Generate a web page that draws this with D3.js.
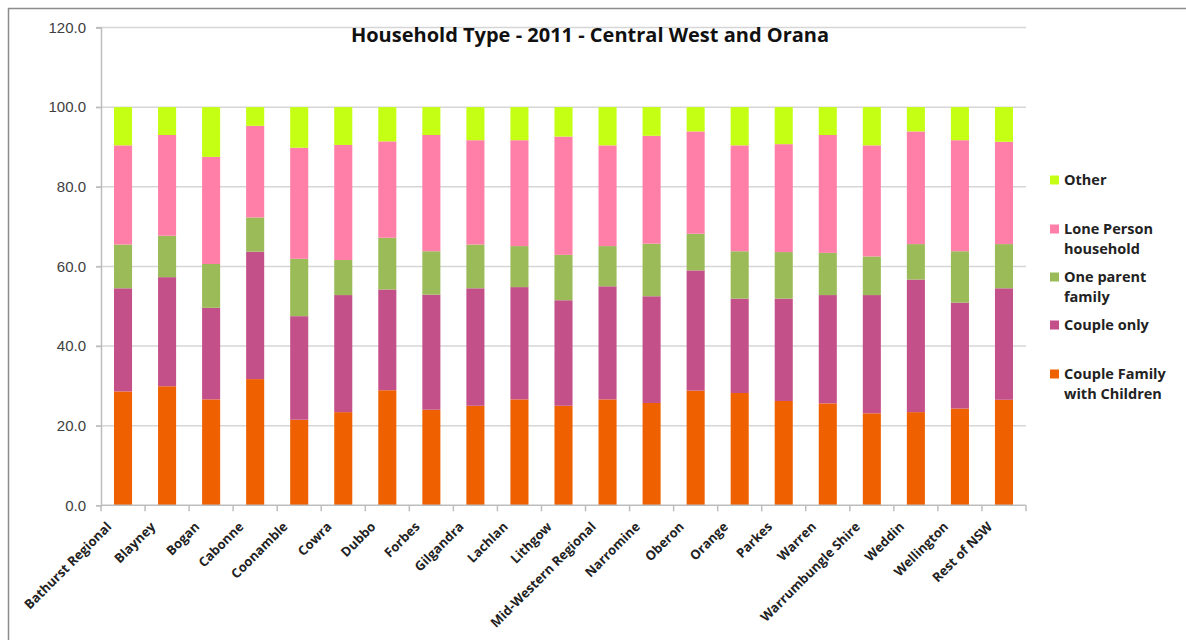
<!DOCTYPE html>
<meta charset="utf-8">
<style>
body { margin: 0; background: #fff; font-family: "Open Sans", Arial, sans-serif; }
.axis text { fill: #404040; }
.grid line { stroke: #d6d6d6; stroke-width: 1.5px; }
</style>
<body>
<script src="https://d3js.org/d3.v7.min.js"></script>
<script>
var regions = ["Bathurst Regional", "Blayney", "Bogan", "Cabonne", "Coonamble", "Cowra", "Dubbo",
  "Forbes", "Gilgandra", "Lachlan", "Lithgow", "Mid-Western Regional", "Narromine", "Oberon",
  "Orange", "Parkes", "Warren", "Warrumbungle Shire", "Weddin", "Wellington", "Rest of NSW"];

// stacked from the bottom up
var seriesNames = ["Couple Family with Children", "Couple only", "One parent family", "Lone Person household", "Other"];

var coupleFamily = [28.6, 29.9, 26.6, 31.7, 21.5, 23.4, 28.9, 24.0, 25.0, 26.6, 25.0, 26.6, 25.7, 28.8, 28.2, 26.2, 25.6, 23.1, 23.4, 24.3, 26.5];
var coupleOnly   = [25.9, 27.4, 23.0, 32.0, 26.0, 29.4, 25.3, 28.9, 29.5, 28.2, 26.5, 28.4, 26.8, 30.2, 23.7, 25.7, 27.2, 29.7, 33.3, 26.6, 28.0];
var oneParent    = [11.0, 10.4, 11.0, 8.6, 14.4, 8.8, 13.0, 10.9, 11.0, 10.3, 11.4, 10.1, 13.2, 9.2, 11.9, 11.7, 10.6, 9.7, 8.9, 12.9, 11.1];
var lonePerson   = [24.9, 25.3, 26.9, 23.0, 27.9, 28.9, 24.2, 29.2, 26.2, 26.6, 29.7, 25.3, 27.1, 25.7, 26.6, 27.1, 29.6, 27.9, 28.3, 27.9, 25.7];
var other        = [9.6, 7.0, 12.5, 4.7, 10.2, 9.5, 8.6, 7.0, 8.3, 8.3, 7.4, 9.6, 7.2, 6.1, 9.6, 9.3, 7.0, 9.6, 6.1, 8.3, 8.7];

var yTicks = [0, 20, 40, 60, 80, 100, 120];

var colors = ["#ef6100", "#c4508a", "#9bbb59", "#ff7fa8", "#c4ff14"];

var rows = regions.map(function(r, i) {
  return { region: r, s0: coupleFamily[i], s1: coupleOnly[i], s2: oneParent[i], s3: lonePerson[i], s4: other[i] };
});
var keys = ["s0", "s1", "s2", "s3", "s4"];

var W = 1186, H = 640;
var plot = { left: 101, right: 1026, top: 27.5, bottom: 505.3 };

var svg = d3.select("body").append("svg")
  .attr("width", W)
  .attr("height", H);

// outer chart border (top and left visible)
svg.append("path")
  .attr("d", "M8.5," + (H + 5) + "V8.5H" + (W + 5))
  .attr("fill", "none")
  .attr("stroke", "#8c8c8c")
  .attr("stroke-width", 1.5);

var x = d3.scaleBand()
  .domain(regions)
  .range([plot.left, plot.right])
  .paddingInner(0.59)
  .paddingOuter(0.295);

var y = d3.scaleLinear()
  .domain([0, 120])
  .range([plot.bottom, plot.top]);

// gridlines
svg.append("g")
  .attr("class", "grid")
  .selectAll("line")
  .data(yTicks.filter(function(d) { return d > 0; }))
  .enter().append("line")
    .attr("x1", plot.left - 5)
    .attr("x2", plot.right)
    .attr("y1", function(d) { return y(d); })
    .attr("y2", function(d) { return y(d); });

var stack = d3.stack().keys(keys);
var layers = stack(rows);

svg.append("g")
  .selectAll("g")
  .data(layers)
  .enter().append("g")
    .attr("fill", function(d, i) { return colors[i]; })
  .selectAll("rect")
  .data(function(d) { return d; })
  .enter().append("rect")
    .attr("x", function(d) { return x(d.data.region); })
    .attr("width", x.bandwidth())
    .attr("y", function(d) { return y(d[1]); })
    .attr("height", function(d) { return y(d[0]) - y(d[1]); });

// y axis
var yAxis = d3.axisLeft(y)
  .tickValues(yTicks)
  .tickFormat(d3.format(".1f"))
  .tickSize(5)
  .tickPadding(10);

var gy = svg.append("g")
  .attr("class", "axis")
  .attr("transform", "translate(" + plot.left + ",0)")
  .call(yAxis);
gy.select(".domain").attr("stroke", "#bdbdbd").attr("stroke-width", 1.5);
gy.selectAll(".tick line").attr("stroke", "#bdbdbd").attr("stroke-width", 1.5);
gy.selectAll("text").style("font-size", "15px");

// x axis
var gx = svg.append("g")
  .attr("class", "axis")
  .attr("transform", "translate(0," + plot.bottom + ")");

gx.append("line")
  .attr("x1", plot.left)
  .attr("x2", plot.right)
  .attr("stroke", "#bdbdbd")
  .attr("stroke-width", 1.5);

var step = x.step();
gx.selectAll("line.tk")
  .data(d3.range(regions.length + 1))
  .enter().append("line")
    .attr("class", "tk")
    .attr("x1", function(i) { return plot.left + i * step; })
    .attr("x2", function(i) { return plot.left + i * step; })
    .attr("y1", 0)
    .attr("y2", 6)
    .attr("stroke", "#bdbdbd")
    .attr("stroke-width", 1.5);

gx.selectAll("text.lbl")
  .data(regions)
  .enter().append("text")
    .attr("class", "lbl")
    .attr("text-anchor", "end")
    .attr("transform", function(d) {
      return "translate(" + (x(d) + x.bandwidth() / 2 - 14) + ",19) rotate(-45)";
    })
    .attr("dy", "0.35em")
    .style("font-size", "13px")
    .style("font-weight", "bold")
    .style("fill", "#222")
    .text(function(d) { return d; });

// title
svg.append("text")
  .attr("x", 590)
  .attr("y", 42)
  .attr("text-anchor", "middle")
  .style("font-size", "20px")
  .style("font-weight", "bold")
  .style("fill", "#111")
  .text("Household Type - 2011 - Central West and Orana");

// legend, top entry first
var legendItems = [
  { lines: ["Other"], color: colors[4], y: 180 },
  { lines: ["Lone Person", "household"], color: colors[3], y: 229 },
  { lines: ["One parent", "family"], color: colors[2], y: 277 },
  { lines: ["Couple only"], color: colors[1], y: 325 },
  { lines: ["Couple Family", "with Children"], color: colors[0], y: 374 }
];

var legend = svg.append("g");
var li = legend.selectAll("g")
  .data(legendItems)
  .enter().append("g")
    .attr("transform", function(d) { return "translate(1050," + d.y + ")"; });

li.append("rect")
  .attr("x", 0)
  .attr("y", -4.5)
  .attr("width", 9)
  .attr("height", 9)
  .attr("fill", function(d) { return d.color; });

li.append("text")
  .attr("x", 14)
  .style("font-size", "14.5px")
  .style("font-weight", "bold")
  .style("fill", "#222")
  .selectAll("tspan")
  .data(function(d) { return d.lines; })
  .enter().append("tspan")
    .attr("x", 14)
    .attr("y", function(d, i) { return i * 19.5; })
    .attr("dy", "0.35em")
    .text(function(d) { return d; });
</script>
</body>
